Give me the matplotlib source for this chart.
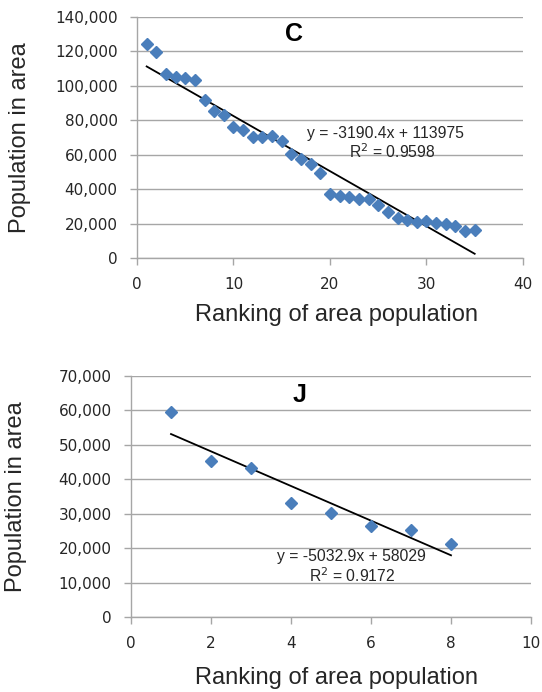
import numpy as np
import matplotlib
matplotlib.use("Agg")
import matplotlib.pyplot as plt
from matplotlib.ticker import FuncFormatter

# ---- data: chart C ----
rank_c = list(range(1, 36))
pop_c = [124300, 119500, 106700, 105300, 104700, 103400, 91800, 85600, 82900, 75900,
         74400, 70500, 70500, 71000, 68000, 60400, 57500, 54600, 49400, 37000,
         36000, 35300, 34500, 34500, 31000, 26700, 23200, 22100, 20900, 21700,
         20500, 19600, 18600, 15900, 16300]
eq_c = "y = -3190.4x + 113975"
r2_c = "R$^2$ = 0.9598"

# ---- data: chart J ----
rank_j = [1, 2, 3, 4, 5, 6, 7, 8]
pop_j = [59500, 45300, 43400, 33200, 30100, 26400, 25200, 21200]
eq_j = "y = -5032.9x + 58029"
r2_j = "R$^2$ = 0.9172"

xlabel = "Ranking of area population"
ylabel = "Population in area"

marker_color = "#4A7EBB"
grid_color = "#A6A6A6"
tick_font = "DejaVu Sans"
label_font = "Liberation Sans"
text_color = "#262626"

fig = plt.figure(figsize=(5.42, 6.92), dpi=100)

def style(ax, xlim, xticks, ylim, yticks, xl_pos, yl_pos):
    ax.set_xlim(*xlim)
    ax.set_ylim(*ylim)
    ax.set_xticks(xticks)
    ax.set_yticks(yticks)
    ax.yaxis.set_major_formatter(FuncFormatter(lambda v, p: f"{int(v):,}"))
    for s in ["top", "right"]:
        ax.spines[s].set_visible(False)
    for s in ["left", "bottom"]:
        ax.spines[s].set_color(grid_color)
        ax.spines[s].set_linewidth(1.0)
    ax.grid(axis="y", color=grid_color, linewidth=1.0)
    ax.set_axisbelow(True)
    ax.tick_params(direction="out", length=5, color=grid_color, width=1.0,
                   labelsize=11, labelcolor=text_color)
    ax.tick_params(axis="x", pad=8.5)
    ax.tick_params(axis="y", pad=9)
    for lab in ax.get_xticklabels() + ax.get_yticklabels():
        lab.set_fontfamily(tick_font)
    ax.set_xlabel(xlabel, fontsize=17, family=label_font, color=text_color, va="center")
    ax.set_ylabel(ylabel, fontsize=17, family=label_font, color=text_color, va="center")
    ax.xaxis.set_label_coords(*xl_pos)
    ax.yaxis.set_label_coords(*yl_pos)

def trend(ax, x, y):
    x = np.asarray(x, float)
    y = np.asarray(y, float)
    m, b = np.polyfit(x, y, 1)
    xs = np.array([x.min(), x.max()])
    ax.plot(xs, m * xs + b, color="black", linewidth=1.3, zorder=2)

# Chart C
ax1 = fig.add_axes([0.2528, 0.6272, 0.712, 0.3482])
style(ax1, (0, 40), range(0, 41, 10), (0, 140000), range(0, 140001, 20000),
      (0.518, -0.2365), (-0.303, 0.5))
trend(ax1, rank_c, pop_c)
ax1.plot(rank_c, pop_c, linestyle="none", marker="D", markersize=6,
         color=marker_color, zorder=3)
ax1.text(0.406, 0.928, "C", transform=ax1.transAxes, fontsize=18, fontweight="bold",
         family=label_font, ha="center", va="center")
ax1.text(25.8, 72600, eq_c, fontsize=11.3, family=label_font, color=text_color,
         ha="center", va="center")
ax1.text(26.4, 62000, r2_c, fontsize=11.3, family=label_font, color=text_color,
         ha="center", va="center")

# Chart J
ax2 = fig.add_axes([0.2417, 0.1084, 0.7380, 0.3482])
style(ax2, (0, 10), range(0, 11, 2), (0, 70000), range(0, 70001, 10000),
      (0.515, -0.253), (-0.2875, 0.5))
trend(ax2, rank_j, pop_j)
ax2.plot(rank_j, pop_j, linestyle="none", marker="D", markersize=6,
         color=marker_color, zorder=3)
ax2.text(0.4225, 0.921, "J", transform=ax2.transAxes, fontsize=18, fontweight="bold",
         family=label_font, ha="center", va="center")
ax2.text(5.51, 17430, eq_j, fontsize=11.3, family=label_font, color=text_color,
         ha="center", va="center")
ax2.text(5.53, 12100, r2_j, fontsize=11.3, family=label_font, color=text_color,
         ha="center", va="center")

fig.savefig("out.png", dpi=100)
